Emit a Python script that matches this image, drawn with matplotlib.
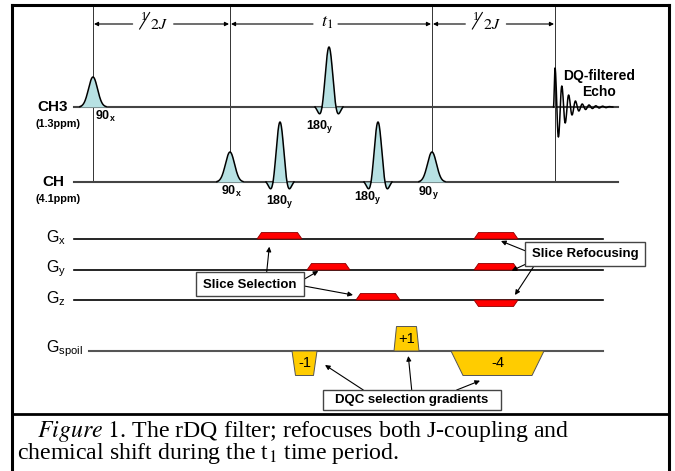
import numpy as np
import matplotlib.pyplot as plt
from matplotlib.patches import Polygon, Rectangle

plt.rcParams['font.family'] = 'Liberation Sans'
plt.rcParams['mathtext.fontset'] = 'custom'
plt.rcParams['mathtext.rm'] = 'Liberation Sans'
plt.rcParams['mathtext.it'] = 'Liberation Sans:italic'
plt.rcParams['mathtext.bf'] = 'Liberation Sans:bold'

# --- sequence content (diagram pixel units, y measured from top) ---
chan_names = ['CH3', 'CH']
chan_ppm = ['(1.3ppm)', '(4.1ppm)']
chan_y = [107, 182]

pulse_chan = [0, 0, 1, 1, 1, 1]
pulse_t = [93, 329, 230, 280, 378, 432]
pulse_flip = [90, 180, 90, 180, 180, 90]
pulse_phase = ['x', 'y', 'x', 'y', 'y', 'y']

mark_t = [93, 230, 432, 555]
period_lab = ['half', 't1', 'half']

echo_t0 = 555
echo_amp = [39, -30, 21, -16, 12, -8, 6, -4, 3, -2.5, 2, -1.5, 1.2, -1, 0.8, -0.6, 0.4]

grad_names = ['x', 'y', 'z']
grad_y = [239, 270, 300]
lobe_axis = [0, 1, 2, 0, 1, 2]
lobe_start = [257, 307, 356, 474, 474, 474]
lobe_end = [302, 350, 400, 518, 518, 518]
lobe_sign = [1, 1, 1, 1, 1, -1]

spoil_y = 351
spoil_start = [292, 394, 451]
spoil_end = [317, 419, 544]
spoil_sign = [-1, 1, -1]
spoil_lab = ['-1', '+1', '-4']

# --- layout helpers ---
pulse_lab_dx = [12, -9, 1, 0, -10, -4]
pulse_lab_y = [120, 129, 195, 204, 200, 195]
spoil_ramp = [3.5, 2.5, 12]

CYAN = '#B7E1E3'
RED = '#FF0000'
GOLD = '#FFCC00'

fig = plt.figure(figsize=(6.75, 4.71), dpi=100)
ax = fig.add_axes([0, 0, 1, 1])
ax.set_xlim(0, 675)
ax.set_ylim(471, 0)
ax.axis('off')

# frame and caption divider
ax.plot([12, 12], [5, 471], color='black', lw=2.2, solid_capstyle='projecting')
ax.plot([669, 669], [5, 471], color='black', lw=2.2, solid_capstyle='projecting')
ax.plot([12, 669], [5, 5], color='black', lw=2.2, solid_capstyle='projecting')
ax.plot([12, 669], [414, 414], color='black', lw=2.0)

# timing marks
for t in mark_t:
    ax.plot([t, t], [7, 182], color='#333333', lw=0.7)


def arrow(x0, y0, x1, y1, ms=7):
    ax.annotate('', xy=(x1, y1), xytext=(x0, y0),
                arrowprops=dict(arrowstyle='-|>', color='black', lw=0.8,
                                mutation_scale=ms, shrinkA=0, shrinkB=0))


def half_j(xc):
    ax.text(xc - 11, 16.5, '1', fontfamily='Liberation Serif', fontsize=9,
            ha='center', va='center')
    ax.plot([xc - 15, xc - 5], [29, 12.5], color='black', lw=0.8)
    ax.text(xc + 4.5, 24.5, r'$2J$', math_fontfamily='stix', fontsize=11.5,
            ha='center', va='center')


arrow_y = 24
for i, lab in enumerate(period_lab):
    a, b = mark_t[i], mark_t[i + 1]
    if lab == 'half':
        xc = a + 0.45 * (b - a)
        half_j(xc)
        gap = (22, 19)
    else:
        xc = (a + b) / 2
        ax.text(xc - 4, arrow_y - 2, r'$t_1$', math_fontfamily='stix',
                fontsize=13, ha='center', va='center')
        gap = (18, 7)
    arrow(xc - gap[0], arrow_y, a + 1, arrow_y, ms=6)
    arrow(xc + gap[1], arrow_y, b - 1, arrow_y, ms=6)

# RF channels
for name, ppm, y in zip(chan_names, chan_ppm, chan_y):
    ax.plot([74, 618], [y, y], color='#444444', lw=1.5, zorder=2)
    x0 = 37 if name == 'CH3' else 42
    ax.text(x0, y, name, fontsize=11, fontweight='bold', ha='left', va='center')
    ax.text(36, y + 17, ppm, fontsize=7.8, fontweight='bold', ha='left', va='center')


def rf_shape(flip):
    if flip == 90:
        t = np.linspace(-13, 13, 131)
        return t, np.exp(-0.5 * (t / 4.5) ** 2)
    t = np.linspace(-14, 14, 161)
    return t, np.sinc(t / 7) * np.exp(-(t / 12) ** 2)


for c, t0, flip, ph, dx, ly in zip(pulse_chan, pulse_t, pulse_flip, pulse_phase,
                                   pulse_lab_dx, pulse_lab_y):
    base = chan_y[c]
    t, s = rf_shape(flip)
    yy = base - (flip / 3) * s
    ax.fill_between(t0 + t, base, yy, color=CYAN, lw=0, zorder=3)
    ax.plot(t0 + t, yy, color='black', lw=1.1, zorder=4)
    ax.text(t0 + dx, ly, r'$\mathbf{%d_%s}$' % (flip, ph), fontsize=9,
            ha='center', va='baseline')

# echo
ex = [echo_t0 - 1.5] + [echo_t0 + 3.4 * i for i in range(len(echo_amp))] \
     + [echo_t0 + 3.4 * len(echo_amp)]
ey = [0] + echo_amp + [0]
px, py = [], []
for i in range(len(ex) - 1):
    u = np.linspace(0, 1, 12)
    w = (1 - np.cos(np.pi * u)) / 2
    px.extend(ex[i] + (ex[i + 1] - ex[i]) * u)
    py.extend(ey[i] + (ey[i + 1] - ey[i]) * w)
ax.plot(px, chan_y[0] - np.array(py), color='black', lw=1.1, zorder=4)
ax.text(599, 84, 'DQ-filtered\nEcho', fontsize=10, fontweight='bold',
        ha='center', va='center', linespacing=1.2)

# slice gradients
for n, y in zip(grad_names, grad_y):
    ax.plot([74, 603], [y, y], color='black', lw=1.2, zorder=2)
    ax.text(46, y - 1, r'$\mathrm{G}_{\mathrm{%s}}$' % n, fontsize=11.5,
            ha='left', va='center')

for a, s, e, sg in zip(lobe_axis, lobe_start, lobe_end, lobe_sign):
    y0 = grad_y[a]
    h = 6.5 * sg
    ax.add_patch(Polygon([(s, y0), (s + 4.5, y0 - h), (e - 4.5, y0 - h), (e, y0)],
                         closed=True, facecolor=RED, edgecolor='#8B0000',
                         lw=0.6, zorder=3))

# spoiler gradients
ax.plot([89, 603], [spoil_y, spoil_y], color='#555555', lw=1.5, zorder=2)
ax.text(46, spoil_y - 2, r'$\mathrm{G}_{\mathrm{spoil}}$', fontsize=11.5,
        ha='left', va='center')
for s, e, sg, lab, r in zip(spoil_start, spoil_end, spoil_sign, spoil_lab, spoil_ramp):
    h = 24.5 * sg
    ax.add_patch(Polygon([(s, spoil_y), (s + r, spoil_y - h), (e - r, spoil_y - h),
                          (e, spoil_y)], closed=True, facecolor=GOLD,
                         edgecolor='#555555', lw=0.7, zorder=3))
    ax.text((s + e) / 2, spoil_y - h / 2, lab, fontsize=10.5, ha='center',
            va='center', zorder=4)


def box(x0, y0, x1, y1, txt):
    ax.add_patch(Rectangle((x0, y0), x1 - x0, y1 - y0, facecolor='white',
                           edgecolor='#444444', lw=1.0, zorder=5))
    ax.text((x0 + x1) / 2, (y0 + y1) / 2 + 0.5, txt, fontsize=9.5,
            fontweight='bold', ha='center', va='center', zorder=6)


box(196, 272, 304, 296, 'Slice Selection')
arrow(266.7, 272, 269.3, 246.7)
arrow(304, 279.3, 318.3, 271)
arrow(304, 286, 353, 295)

box(525, 242, 645, 266, 'Slice Refocusing')
arrow(525, 250.7, 501, 241)
arrow(525, 264.5, 511.7, 270.7)
arrow(534, 266, 515, 295)

box(323, 390, 501, 410, 'DQC selection gradients')
arrow(363.3, 390, 325, 365)
arrow(411.7, 390, 408.3, 356)
arrow(456.7, 390, 480, 380.7)

# caption
ax.text(37, 437, r'$\mathit{Figure\ 1}$. The rDQ filter; refocuses both J-coupling and',
        fontfamily='Liberation Serif', math_fontfamily='stix', fontsize=17.2,
        va='baseline', ha='left')
ax.text(17, 459, r'chemical shift during the t$_1$ time period.',
        fontfamily='Liberation Serif', math_fontfamily='stix', fontsize=17.2,
        va='baseline', ha='left')

fig.savefig('out.png', dpi=100)
